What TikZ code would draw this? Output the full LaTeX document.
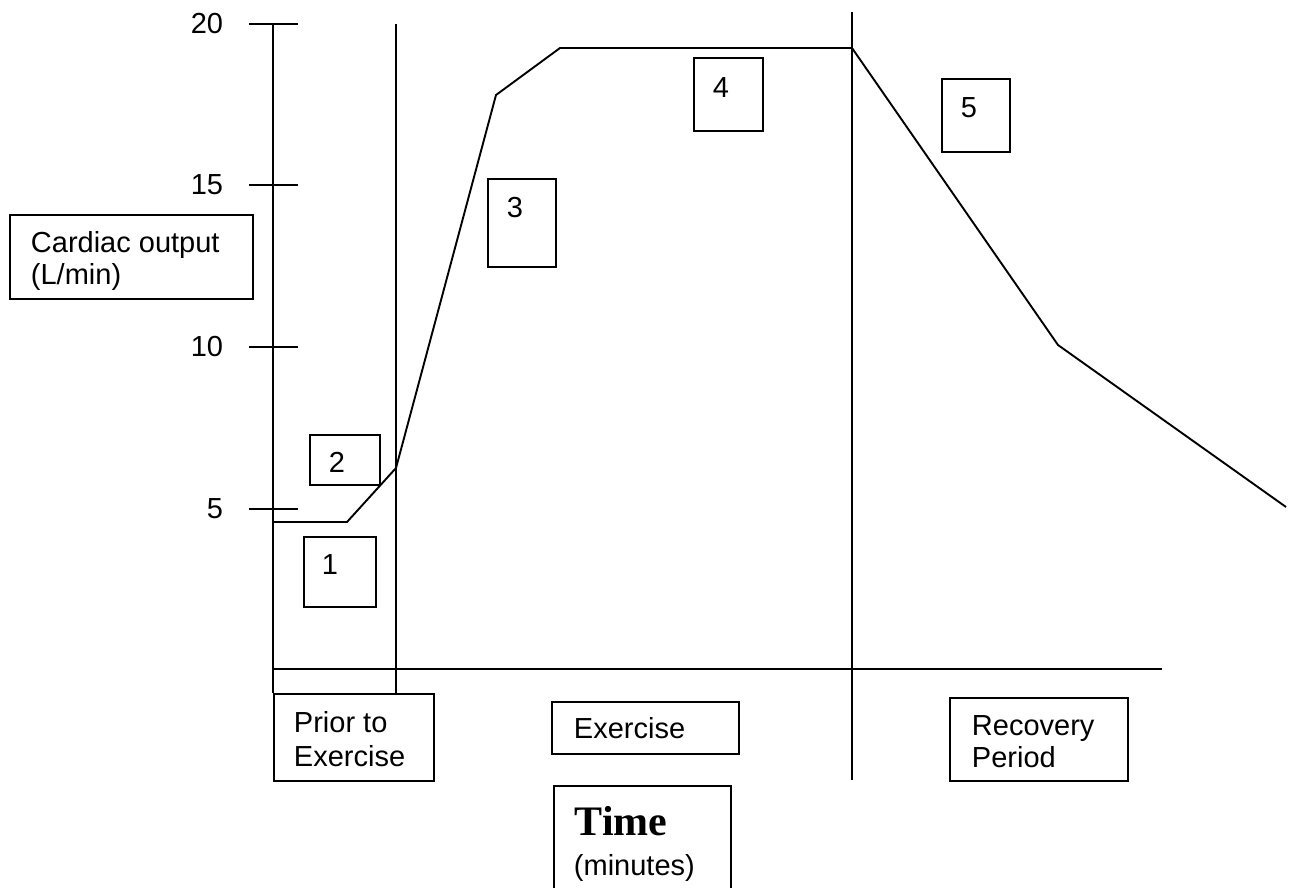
\documentclass[tikz,border=0pt]{standalone}
\usepackage{fontspec}
\setmainfont{Liberation Sans}
\newfontfamily\timesfont{Liberation Serif}
\begin{document}
\begin{tikzpicture}[x=1pt,y=-1pt,line width=1.9pt,
  box/.style={draw,line width=1.9pt,inner sep=0pt,anchor=north west},
  lbl/.style={inner sep=0pt,font=\fontsize{29}{33}\selectfont}]
\useasboundingbox (0,0) rectangle (1290,887);
% axes
\coordinate (ytop) at (273,24);
\coordinate (ybot) at (273,693);
\coordinate (xl) at (273,669);
\coordinate (xr) at (1162,669);
\draw (ytop) -- (ybot);
\draw (xl) -- (xr);
% phase separators
\coordinate (v1t) at (396,24);
\coordinate (v1b) at (396,693);
\coordinate (v2t) at (852,12);
\coordinate (v2b) at (852,780);
\draw (v1t) -- (v1b);
\draw (v2t) -- (v2b);
% ticks and labels
\foreach \v/\y in {20/24,15/185,10/347,5/509}{
  \coordinate (tl\v) at (249,\y);
  \coordinate (tr\v) at (298,\y);
  \draw (tl\v) -- (tr\v);
  \node[lbl,anchor=east] (n\v) at (224,\y) {\v};
}
% curve
\coordinate (p0) at (273,522);
\coordinate (p1) at (347,522);
\coordinate (p2) at (396,468);
\coordinate (p3) at (496,95);
\coordinate (p4) at (560,48);
\coordinate (p5) at (852,48);
\coordinate (p6) at (1058,345);
\coordinate (p7) at (1286,507);
\draw (p0) -- (p1) -- (p2) -- (p3) -- (p4) -- (p5) -- (p6) -- (p7);
% y label box
\node[box,minimum width=243pt,minimum height=84pt] (ybox) at (9,214) {};
\node[lbl,anchor=base west] (yl1) at (30,252) {Cardiac output};
\node[lbl,anchor=base west] (yl2) at (30,284) {(L/min)};
% number boxes
\node[box,minimum width=70pt,minimum height=50pt] (b2) at (309,434) {};
\node[lbl,anchor=base] (t2) at (337,472) {2};
\node[box,minimum width=72pt,minimum height=70pt] (b1) at (303,536) {};
\node[lbl,anchor=base] (t1) at (330,574) {1};
\node[box,minimum width=68pt,minimum height=88pt] (b3) at (487,178) {};
\node[lbl,anchor=base] (t3) at (515,217) {3};
\node[box,minimum width=69pt,minimum height=73pt] (b4) at (693,57) {};
\node[lbl,anchor=base] (t4) at (721,97) {4};
\node[box,minimum width=68pt,minimum height=73pt] (b5) at (941,78) {};
\node[lbl,anchor=base] (t5) at (969,117) {5};
% phase boxes
\node[box,minimum width=160pt,minimum height=87pt] (prior) at (273,693) {};
\node[lbl,anchor=base west] (pr1) at (293,732) {Prior to};
\node[lbl,anchor=base west] (pr2) at (293,766) {Exercise};
\node[box,minimum width=187pt,minimum height=52pt] (ex) at (551,701) {};
\node[lbl,anchor=base west] (ext) at (573,738) {Exercise};
\node[box,minimum width=178pt,minimum height=83pt] (rec) at (949,697) {};
\node[lbl,anchor=base west] (rc1) at (971,735) {Recovery};
\node[lbl,anchor=base west] (rc2) at (971,767) {Period};
% time box
\node[box,minimum width=177pt,minimum height=106pt] (tbox) at (553,785) {};
\node[inner sep=0pt,anchor=base west,font=\timesfont\bfseries\fontsize{42}{46}\selectfont] (tt) at (574,835) {Time};
\node[lbl,anchor=base west] (tm) at (573,875) {(minutes)};
\end{tikzpicture}
\end{document}
